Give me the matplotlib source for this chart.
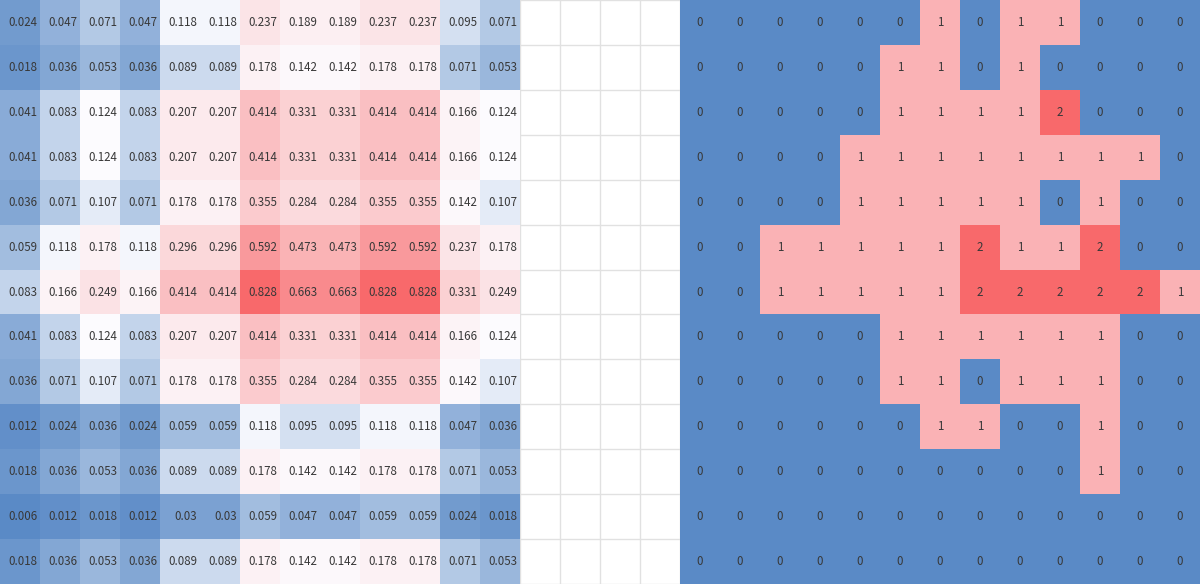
import numpy as np
import matplotlib
matplotlib.use("Agg")
import matplotlib.pyplot as plt
from matplotlib.colors import LinearSegmentedColormap, TwoSlopeNorm, ListedColormap, BoundaryNorm

# ---- data ----
left_rows = [
    [0.024, 0.047, 0.071, 0.047, 0.118, 0.118, 0.237, 0.189, 0.189, 0.237, 0.237, 0.095, 0.071],
    [0.018, 0.036, 0.053, 0.036, 0.089, 0.089, 0.178, 0.142, 0.142, 0.178, 0.178, 0.071, 0.053],
    [0.041, 0.083, 0.124, 0.083, 0.207, 0.207, 0.414, 0.331, 0.331, 0.414, 0.414, 0.166, 0.124],
    [0.041, 0.083, 0.124, 0.083, 0.207, 0.207, 0.414, 0.331, 0.331, 0.414, 0.414, 0.166, 0.124],
    [0.036, 0.071, 0.107, 0.071, 0.178, 0.178, 0.355, 0.284, 0.284, 0.355, 0.355, 0.142, 0.107],
    [0.059, 0.118, 0.178, 0.118, 0.296, 0.296, 0.592, 0.473, 0.473, 0.592, 0.592, 0.237, 0.178],
    [0.083, 0.166, 0.249, 0.166, 0.414, 0.414, 0.828, 0.663, 0.663, 0.828, 0.828, 0.331, 0.249],
    [0.041, 0.083, 0.124, 0.083, 0.207, 0.207, 0.414, 0.331, 0.331, 0.414, 0.414, 0.166, 0.124],
    [0.036, 0.071, 0.107, 0.071, 0.178, 0.178, 0.355, 0.284, 0.284, 0.355, 0.355, 0.142, 0.107],
    [0.012, 0.024, 0.036, 0.024, 0.059, 0.059, 0.118, 0.095, 0.095, 0.118, 0.118, 0.047, 0.036],
    [0.018, 0.036, 0.053, 0.036, 0.089, 0.089, 0.178, 0.142, 0.142, 0.178, 0.178, 0.071, 0.053],
    [0.006, 0.012, 0.018, 0.012, 0.03, 0.03, 0.059, 0.047, 0.047, 0.059, 0.059, 0.024, 0.018],
    [0.018, 0.036, 0.053, 0.036, 0.089, 0.089, 0.178, 0.142, 0.142, 0.178, 0.178, 0.071, 0.053],
]

right_rows = [
    [0, 0, 0, 0, 0, 0, 1, 0, 1, 1, 0, 0, 0],
    [0, 0, 0, 0, 0, 1, 1, 0, 1, 0, 0, 0, 0],
    [0, 0, 0, 0, 0, 1, 1, 1, 1, 2, 0, 0, 0],
    [0, 0, 0, 0, 1, 1, 1, 1, 1, 1, 1, 1, 0],
    [0, 0, 0, 0, 1, 1, 1, 1, 1, 0, 1, 0, 0],
    [0, 0, 1, 1, 1, 1, 1, 2, 1, 1, 2, 0, 0],
    [0, 0, 1, 1, 1, 1, 1, 2, 2, 2, 2, 2, 1],
    [0, 0, 0, 0, 0, 1, 1, 1, 1, 1, 1, 0, 0],
    [0, 0, 0, 0, 0, 1, 1, 0, 1, 1, 1, 0, 0],
    [0, 0, 0, 0, 0, 0, 1, 1, 0, 0, 1, 0, 0],
    [0, 0, 0, 0, 0, 0, 0, 0, 0, 0, 1, 0, 0],
    [0, 0, 0, 0, 0, 0, 0, 0, 0, 0, 0, 0, 0],
    [0, 0, 0, 0, 0, 0, 0, 0, 0, 0, 0, 0, 0],
]

gap_cols = 4

# ---- styling ----
BLUE, WHITE, RED = "#5A8AC6", "#FCFCFF", "#F8696B"
PINK = "#FAB2B5"
GRID = "#E1E1E1"
TXT = "#383838"
FONT = ["Noto Sans CJK JP", "DejaVu Sans"]

L = np.array(left_rows, dtype=float)
R = np.array(right_rows, dtype=int)
nrows, ncols = L.shape
total_cols = ncols * 2 + gap_cols
r_off = ncols + gap_cols

fig = plt.figure(figsize=(12, 5.84), dpi=100)
ax = fig.add_axes([0, 0, 1, 1])
ax.set_xlim(0, total_cols)
ax.set_ylim(nrows, 0)
ax.axis("off")

# grid lines (sheet)
for x in range(total_cols + 1):
    ax.axvline(x, color=GRID, lw=1.0, zorder=0)
for y in range(nrows + 1):
    ax.axhline(y, color=GRID, lw=1.0, zorder=0)

# left heatmap: 3-colour scale (min, median, max)
cmap_l = LinearSegmentedColormap.from_list("xl3", [BLUE, WHITE, RED])
norm_l = TwoSlopeNorm(vmin=L.min(), vcenter=np.percentile(L, 50), vmax=L.max())
ax.pcolormesh(np.arange(ncols + 1), np.arange(nrows + 1), L, cmap=cmap_l, norm=norm_l,
              shading="flat", antialiased=False, edgecolors="none", zorder=1)

# right heatmap
cmap_r = ListedColormap([BLUE, PINK, RED])
norm_r = BoundaryNorm([-0.5, 0.5, 1.5, 2.5], 3)
ax.pcolormesh(np.arange(r_off, r_off + ncols + 1), np.arange(nrows + 1), R, cmap=cmap_r, norm=norm_r,
              shading="flat", antialiased=False, edgecolors="none", zorder=1)

def fmt(v):
    return f"{v:.3f}".rstrip("0").rstrip(".")

for i in range(nrows):
    for j in range(ncols):
        ax.text(j + 1 - 0.065, i + 0.5, fmt(L[i, j]), ha="right", va="center",
                fontsize=8.3, color=TXT, family=FONT, zorder=3)
        ax.text(r_off + j + 0.5, i + 0.5, str(R[i, j]), ha="center", va="center",
                fontsize=8.3, color=TXT, family=FONT, zorder=3)

fig.savefig("out.png", dpi=100)
